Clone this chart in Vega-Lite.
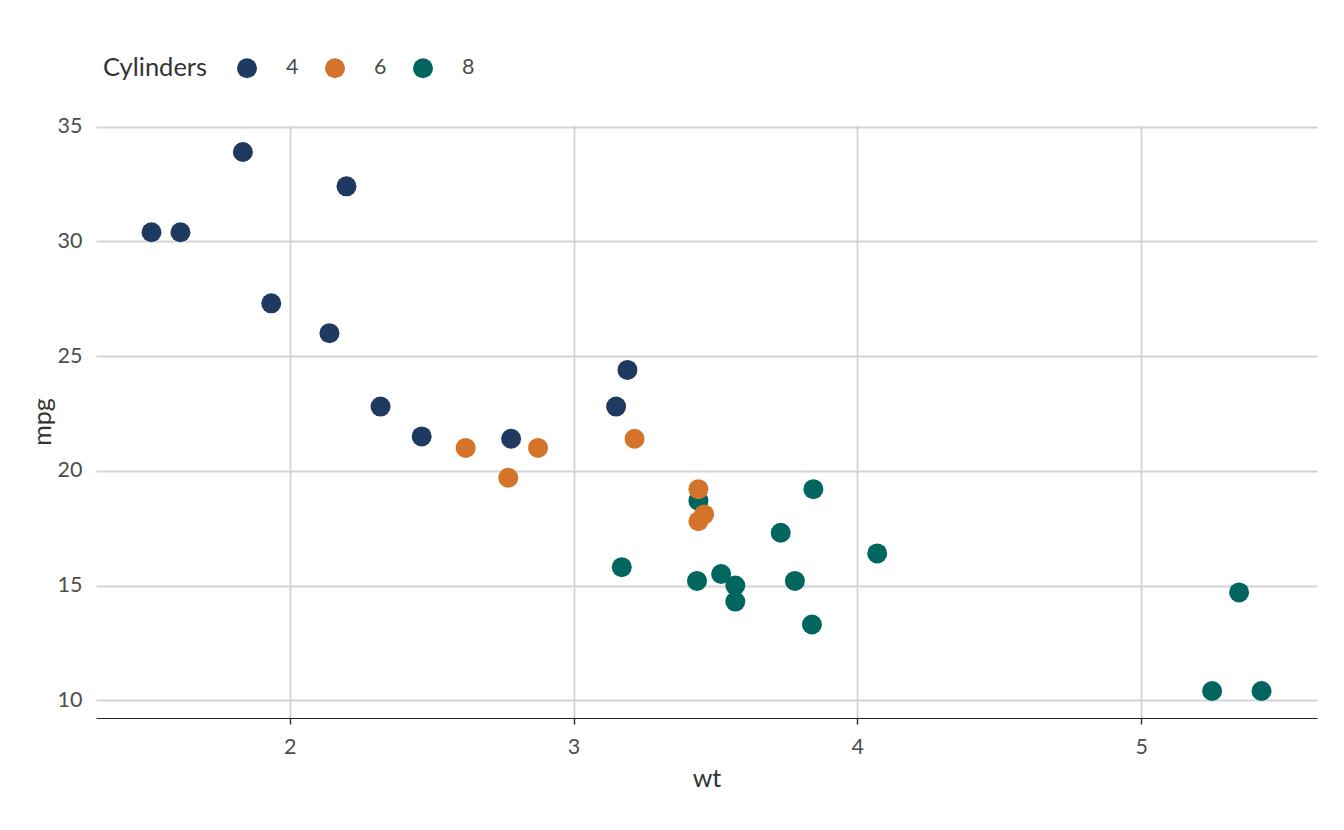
{
  "$schema": "https://vega.github.io/schema/vega-lite/v6.json",
  "autosize": "none",
  "width": 1221,
  "height": 593,
  "padding": {"left": 96, "top": 125, "right": 27, "bottom": 112},
  "background": "white",
  "config": {
    "font": "Lato",
    "view": {"stroke": null},
    "axis": {
      "gridColor": "#d4d4d8",
      "gridWidth": 1.8,
      "labelFont": "Lato",
      "labelFontSize": 21.5,
      "labelColor": "#4d4d4d",
      "titleFont": "Lato",
      "titleFontSize": 25,
      "titleFontWeight": "normal",
      "titleColor": "#333333"
    }
  },
  "data": {
    "values": [
      {"car": "Mazda RX4", "mpg": 21.0, "cyl": "6", "wt": 2.620},
      {"car": "Mazda RX4 Wag", "mpg": 21.0, "cyl": "6", "wt": 2.875},
      {"car": "Datsun 710", "mpg": 22.8, "cyl": "4", "wt": 2.320},
      {"car": "Hornet 4 Drive", "mpg": 21.4, "cyl": "6", "wt": 3.215},
      {"car": "Hornet Sportabout", "mpg": 18.7, "cyl": "8", "wt": 3.440},
      {"car": "Valiant", "mpg": 18.1, "cyl": "6", "wt": 3.460},
      {"car": "Duster 360", "mpg": 14.3, "cyl": "8", "wt": 3.570},
      {"car": "Merc 240D", "mpg": 24.4, "cyl": "4", "wt": 3.190},
      {"car": "Merc 230", "mpg": 22.8, "cyl": "4", "wt": 3.150},
      {"car": "Merc 280", "mpg": 19.2, "cyl": "6", "wt": 3.440},
      {"car": "Merc 280C", "mpg": 17.8, "cyl": "6", "wt": 3.440},
      {"car": "Merc 450SE", "mpg": 16.4, "cyl": "8", "wt": 4.070},
      {"car": "Merc 450SL", "mpg": 17.3, "cyl": "8", "wt": 3.730},
      {"car": "Merc 450SLC", "mpg": 15.2, "cyl": "8", "wt": 3.780},
      {"car": "Cadillac Fleetwood", "mpg": 10.4, "cyl": "8", "wt": 5.250},
      {"car": "Lincoln Continental", "mpg": 10.4, "cyl": "8", "wt": 5.424},
      {"car": "Chrysler Imperial", "mpg": 14.7, "cyl": "8", "wt": 5.345},
      {"car": "Fiat 128", "mpg": 32.4, "cyl": "4", "wt": 2.200},
      {"car": "Honda Civic", "mpg": 30.4, "cyl": "4", "wt": 1.615},
      {"car": "Toyota Corolla", "mpg": 33.9, "cyl": "4", "wt": 1.835},
      {"car": "Toyota Corona", "mpg": 21.5, "cyl": "4", "wt": 2.465},
      {"car": "Dodge Challenger", "mpg": 15.5, "cyl": "8", "wt": 3.520},
      {"car": "AMC Javelin", "mpg": 15.2, "cyl": "8", "wt": 3.435},
      {"car": "Camaro Z28", "mpg": 13.3, "cyl": "8", "wt": 3.840},
      {"car": "Pontiac Firebird", "mpg": 19.2, "cyl": "8", "wt": 3.845},
      {"car": "Fiat X1-9", "mpg": 27.3, "cyl": "4", "wt": 1.935},
      {"car": "Porsche 914-2", "mpg": 26.0, "cyl": "4", "wt": 2.140},
      {"car": "Lotus Europa", "mpg": 30.4, "cyl": "4", "wt": 1.513},
      {"car": "Ford Pantera L", "mpg": 15.8, "cyl": "8", "wt": 3.170},
      {"car": "Ferrari Dino", "mpg": 19.7, "cyl": "6", "wt": 2.770},
      {"car": "Maserati Bora", "mpg": 15.0, "cyl": "8", "wt": 3.570},
      {"car": "Volvo 142E", "mpg": 21.4, "cyl": "4", "wt": 2.780}
    ]
  },
  "mark": {"type": "circle", "size": 400, "opacity": 1},
  "encoding": {
    "x": {
      "field": "wt", "type": "quantitative", "title": "wt",
      "scale": {"domain": [1.3175, 5.6195], "nice": false, "zero": false},
      "axis": {"values": [2, 3, 4, 5], "domain": true, "domainColor": "#222222", "domainWidth": 1.2, "ticks": true, "tickColor": "#333333", "tickSize": 6, "tickWidth": 1.5, "labelPadding": 12, "titlePadding": 9}
    },
    "y": {
      "field": "mpg", "type": "quantitative", "title": "mpg",
      "scale": {"domain": [9.225, 35.075], "nice": false, "zero": false},
      "axis": {"values": [10, 15, 20, 25, 30, 35], "domain": false, "ticks": false, "labelPadding": 14, "titlePadding": 2}
    },
    "color": {
      "field": "cyl", "type": "nominal", "title": "Cylinders",
      "scale": {"domain": ["4", "6", "8"], "range": ["#1f3a60", "#d4742a", "#00665e"]},
      "legend": {
        "orient": "none", "direction": "horizontal", "legendX": 7, "legendY": -68,
        "titleOrient": "left", "titleFontSize": 25.5, "titleFontWeight": "normal", "titleColor": "#333333", "titlePadding": 28, "titleBaseline": "middle",
        "labelFontSize": 21.5, "labelColor": "#4d4d4d", "labelOffset": 28, "symbolSize": 400, "symbolType": "circle", "symbolOpacity": 1, "columnPadding": 25
      }
    }
  }
}
